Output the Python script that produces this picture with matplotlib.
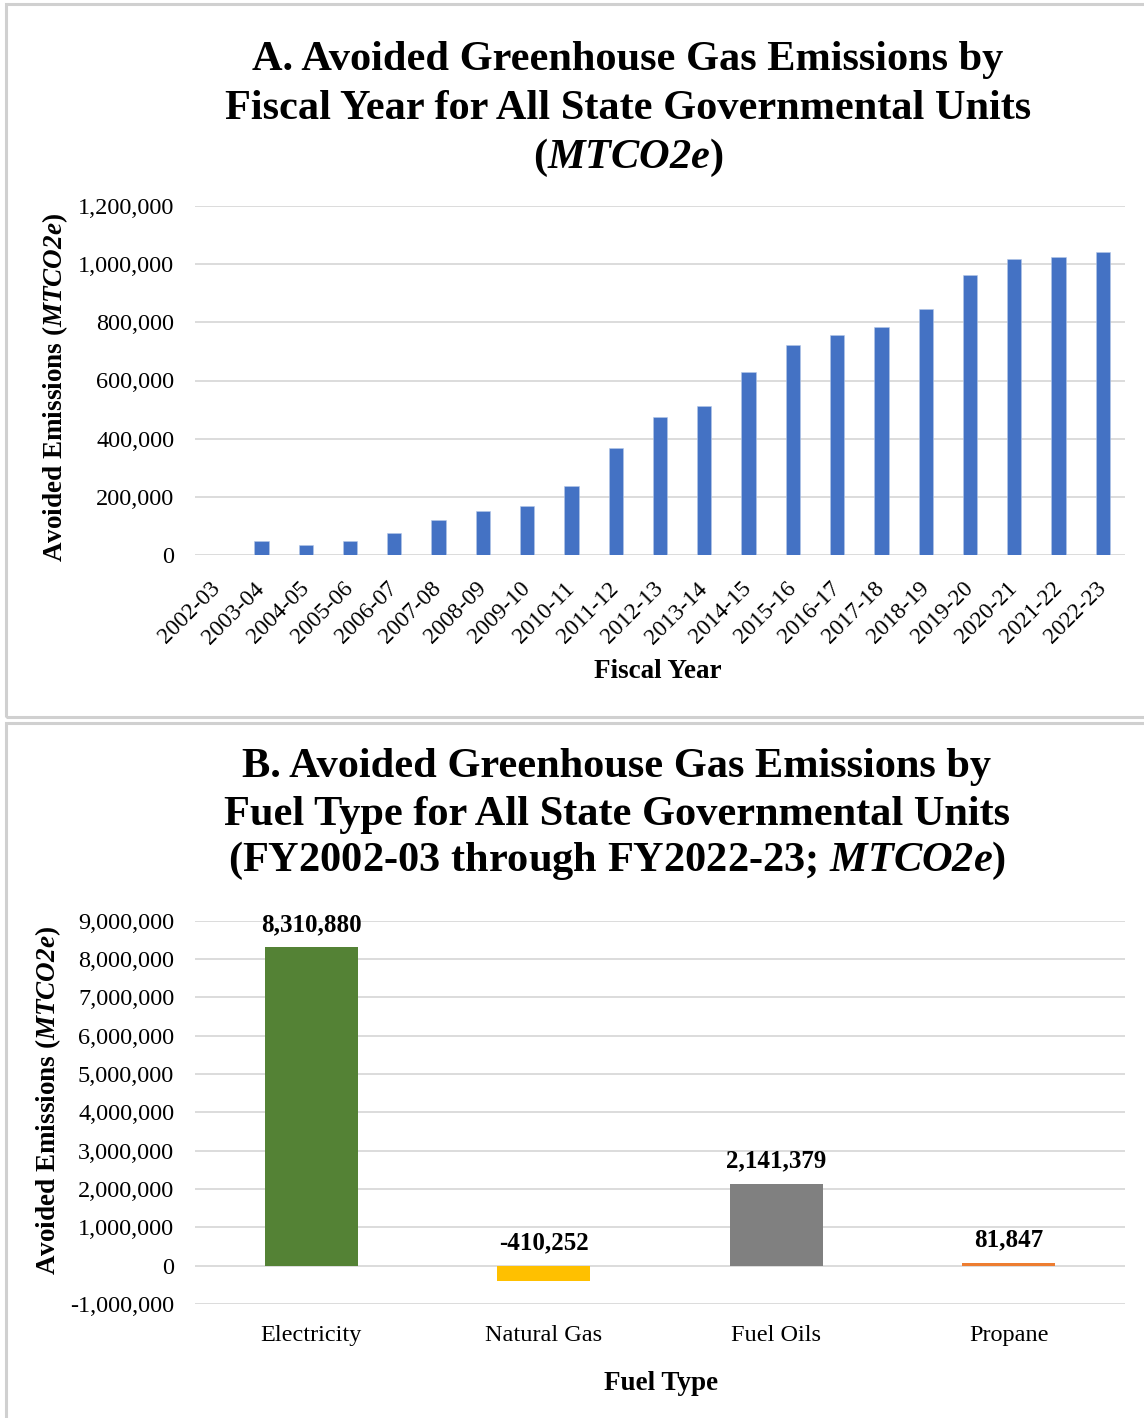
import matplotlib
matplotlib.use("Agg")
import matplotlib.pyplot as plt
from matplotlib.patches import Rectangle
from matplotlib.ticker import FuncFormatter

plt.rcParams['font.family'] = ['Liberation Serif', 'DejaVu Serif']
plt.rcParams['mathtext.fontset'] = 'custom'
# math is only used for the italic unit, so keep digits italic too
plt.rcParams['mathtext.rm'] = 'Liberation Serif:italic:bold'
plt.rcParams['mathtext.it'] = 'Liberation Serif:italic:bold'
plt.rcParams['mathtext.bf'] = 'Liberation Serif:italic:bold'

# --- data ---
fiscal_years = ["2002-03", "2003-04", "2004-05", "2005-06", "2006-07", "2007-08",
                "2008-09", "2009-10", "2010-11", "2011-12", "2012-13", "2013-14",
                "2014-15", "2015-16", "2016-17", "2017-18", "2018-19", "2019-20",
                "2020-21", "2021-22", "2022-23"]
avoided_by_year = [0, 47000, 36000, 47000, 75000, 119000, 153000, 169000, 236000,
                   369000, 473000, 512000, 629000, 723000, 758000, 785000, 846000,
                   962000, 1018000, 1024000, 1041000]

fuel_types = ["Electricity", "Natural Gas", "Fuel Oils", "Propane"]
avoided_by_fuel = [8310880, -410252, 2141379, 81847]
fuel_colors = ["#548235", "#FFC000", "#808080", "#ED7D31"]

W, H = 1144, 1418
fig = plt.figure(figsize=(W / 100, H / 100), dpi=100)


def px(x, y):
    # pixel position (from top-left) -> figure fraction
    return x / W, 1 - y / H


def box(l, t, r, b):
    return [l / W, 1 - b / H, (r - l) / W, (b - t) / H]


grid_c = "#d9d9d9"
thou = FuncFormatter(lambda v, p: f"{int(v):,}")
title_fs = 30.5
tick_fs = 17.5
lab_fs = 19.5

# panel frames
for (l, t, r, b) in [(6, 4, 1150, 717), (6, 723, 1150, 1425)]:
    x0, y0 = px(l, b)
    fig.patches.append(Rectangle((x0, y0), (r - l) / W, (b - t) / H,
                                 transform=fig.transFigure, fill=False,
                                 edgecolor="#d0d0d0", linewidth=2.2))

# --- A. by fiscal year ---
ax1 = fig.add_axes(box(195, 206, 1125, 555))
xs = range(len(fiscal_years))
ax1.bar(xs, avoided_by_year, width=0.32, color="#4472C4", edgecolor="#b4c7e7",
        linewidth=0.4, zorder=3)
ax1.set_xlim(-0.5, len(fiscal_years) - 0.5)
ax1.set_ylim(0, 1200000)
ax1.set_yticks(range(0, 1200001, 200000))
ax1.yaxis.set_major_formatter(thou)
ax1.set_xticks(list(xs))
ax1.set_xticklabels(fiscal_years, rotation=45, ha="right", va="center",
                    rotation_mode="anchor")
ax1.tick_params(axis="x", length=0, pad=22, labelsize=16.8)
ax1.tick_params(axis="y", length=0, pad=15, labelsize=tick_fs)
ax1.grid(axis="y", color=grid_c, linewidth=1.3, zorder=0)
for s in ax1.spines.values():
    s.set_visible(False)

fig.text(*px(628, 60), "A. Avoided Greenhouse Gas Emissions by", ha="center",
         va="center", fontsize=title_fs, fontweight="bold")
fig.text(*px(628, 109), "Fiscal Year for All State Governmental Units", ha="center",
         va="center", fontsize=title_fs, fontweight="bold")
fig.text(*px(628, 158), r"($\mathit{MTCO2e}$)", ha="center",
         va="center", fontsize=title_fs, fontweight="bold")
fig.text(*px(55, 388), r"Avoided Emissions ($\mathit{MTCO2e}$)", ha="center",
         va="center", rotation=90, fontsize=lab_fs, fontweight="bold")
fig.text(*px(658, 672), "Fiscal Year", ha="center", va="center",
         fontsize=lab_fs, fontweight="bold")

# --- B. by fuel type ---
ax2 = fig.add_axes(box(195, 920.7, 1125, 1304))
xf = range(len(fuel_types))
ax2.bar(xf, avoided_by_fuel, width=0.4, color=fuel_colors, zorder=3)
ax2.set_xlim(-0.5, len(fuel_types) - 0.5)
ax2.set_ylim(-1000000, 9000000)
ax2.set_yticks(range(-1000000, 9000001, 1000000))
ax2.yaxis.set_major_formatter(thou)
ax2.set_xticks(list(xf))
ax2.set_xticklabels(fuel_types)
ax2.tick_params(axis="x", length=0, pad=15, labelsize=tick_fs)
ax2.tick_params(axis="y", length=0, pad=15, labelsize=tick_fs)
ax2.grid(axis="y", color=grid_c, linewidth=1.3, zorder=0)
for s in ax2.spines.values():
    s.set_visible(False)

for i, v in enumerate(avoided_by_fuel):
    ax2.annotate(f"{v:,}", (i, max(v, 0)), xytext=(0, 8), textcoords="offset points",
                 ha="center", va="bottom", fontsize=18, fontweight="bold",
                 annotation_clip=False)

fig.text(*px(617, 767), "B. Avoided Greenhouse Gas Emissions by", ha="center",
         va="center", fontsize=title_fs, fontweight="bold")
fig.text(*px(617, 815), "Fuel Type for All State Governmental Units", ha="center",
         va="center", fontsize=title_fs, fontweight="bold")
fig.text(*px(617, 861), r"(FY2002-03 through FY2022-23; $\mathit{MTCO2e}$)",
         ha="center", va="center", fontsize=title_fs, fontweight="bold")
fig.text(*px(48, 1101), r"Avoided Emissions ($\mathit{MTCO2e}$)", ha="center",
         va="center", rotation=90, fontsize=lab_fs, fontweight="bold")
fig.text(*px(661, 1383), "Fuel Type", ha="center", va="center",
         fontsize=lab_fs, fontweight="bold")

fig.savefig("out.png", dpi=100)
